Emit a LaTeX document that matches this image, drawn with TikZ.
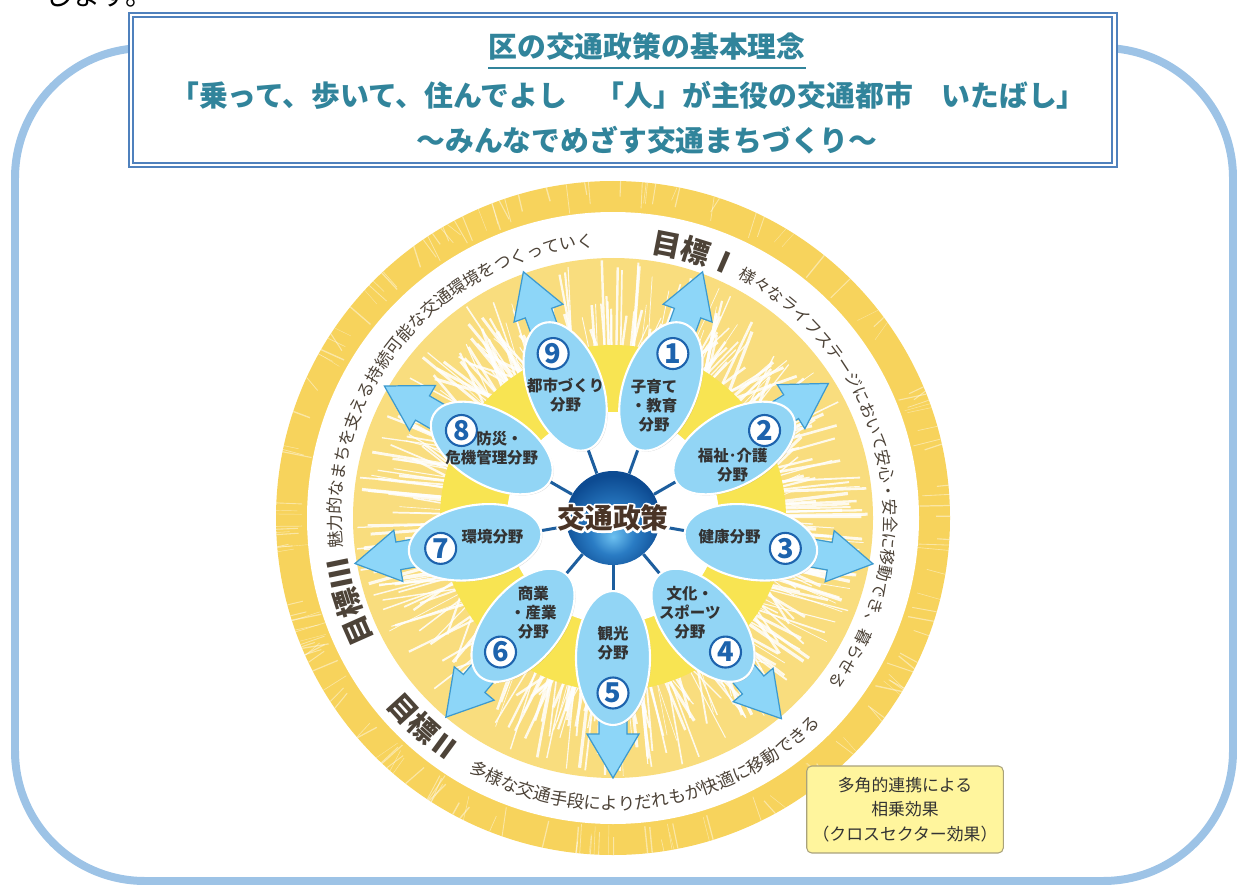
\documentclass[tikz,border=0pt]{standalone}
\usepackage{fontspec}
\setmainfont{Noto Sans CJK JP}
\usetikzlibrary{shapes.geometric,shadows,decorations.text}

\definecolor{framesky}{HTML}{9DC3E6}
\definecolor{titleblue}{HTML}{4F81BD}
\definecolor{titleteal}{HTML}{31849B}
\definecolor{ringgold}{HTML}{F7D35C}
\definecolor{raybase}{HTML}{F9DD7E}
\definecolor{sunyellow}{HTML}{F8E452}
\definecolor{petalsky}{HTML}{92D5F5}
\definecolor{arrowsky}{HTML}{8DD6F8}
\definecolor{arrowedge}{HTML}{3D9ACF}
\definecolor{spokeblue}{HTML}{1D5E9E}
\definecolor{numblue}{HTML}{1D63AD}
\definecolor{ringink}{HTML}{4D4338}
\definecolor{policyink}{HTML}{4A3426}
\definecolor{notefill}{HTML}{FFF59D}
\definecolor{noteedge}{HTML}{A9A27B}
\definecolor{ballhi}{HTML}{6CC0F0}
\definecolor{ballmid}{HTML}{2A7CC4}
\definecolor{balldark}{HTML}{0D4B92}

\pgfdeclareradialshading{policyball}{\pgfpoint{0bp}{-10bp}}{color(0bp)=(ballhi); color(12bp)=(ballmid); color(27bp)=(balldark); color(50bp)=(balldark)}

\newcommand\goalfont{\fontsize{16.5}{18}\selectfont\bfseries}
\newcommand\ringfont{\fontsize{9.6}{11}\selectfont}
\newcommand\ringfontright{\fontsize{9.3}{11}\selectfont}
\newcommand\ringfontlow{\fontsize{9.9}{11}\selectfont}
% white outline round a text, then the text itself
\newcommand\glowtext[1]{\rlap{\special{pdf:literal direct 1 1 1 RG 1 j 2.4 w 1 Tr}#1\special{pdf:literal direct 0 Tr}}#1}

\begin{document}
\begin{tikzpicture}[x=0.02cm, y=0.02cm,
    titletext/.style={text=titleteal, font=\fontsize{16.4}{18}\selectfont\bfseries, inner sep=0},
    petal/.style={ellipse, fill=petalsky, draw=white, line width=1.2pt, minimum width=1.48cm,
        minimum height=2.68cm, inner sep=0, drop shadow={opacity=0.3, shadow xshift=0.6pt, shadow yshift=-0.6pt}},
    bigarrow/.style={fill=arrowsky, draw=arrowedge, line width=0.7pt, line join=miter},
    spoke/.style={draw=spokeblue, line width=1.7pt},
    hub/.style={circle, minimum size=1.88cm, inner sep=0, shading=policyball},
    numdisc/.style={circle, draw=numblue, line width=1.2pt, fill=white, minimum size=0.62cm,
        inner sep=0, text=numblue, font=\fontsize{15.5}{15.5}\selectfont\bfseries},
    sector/.style={align=center, text=black!80, font=\fontsize{8.8}{10.8}\selectfont\bfseries, inner sep=0},
    policytext/.style={font=\fontsize{15.8}{16}\selectfont\bfseries, text=policyink, inner sep=0},
    notebox/.style={draw=noteedge, fill=notefill, rounded corners=0.1cm, line width=0.6pt,
        minimum width=3.6cm, minimum height=1.74cm, align=center, text=black!80,
        font=\fontsize{9.6}{13.9}\selectfont}]
    \useasboundingbox (0,0) rectangle (1237,-885);

    % frame and title
    \draw[framesky, line width=0.16cm, rounded corners=2.6cm] (15,-48) rectangle (1233,-881);
    \node[anchor=base west, inner sep=0, font=\fontsize{15.9}{18}\selectfont] (prevline) at (44,-6) {します。};
    \filldraw[fill=white, draw=titleblue, line width=1.1pt, double, double distance=1.6pt] (131,-15) rectangle (1114.5,-165);
    \node[titletext] (aim) at (647,-46) {区の交通政策の基本理念};
    \draw[titleteal, line width=1.2pt] ([yshift=-0.16cm]aim.south west) -- ([yshift=-0.16cm]aim.south east);
    \node[titletext] (slogan) at (628,-95) {「乗って、歩いて、住んでよし　「人」が主役の交通都市　いたばし」};
    \node[titletext] (motto) at (647,-140) {～みんなでめざす交通まちづくり～};

    \begin{scope}[shift={(613,-518)}]
        % sun rings
        \fill[ringgold] (0,0) circle (337);
        \pgfmathsetseed{11}
        \foreach \i in {1,...,160}{
            \pgfmathsetmacro{\a}{360*rnd}
            \pgfmathsetmacro{\w}{0.2+0.6*rnd}
            \draw[white, opacity=0.45, line width=\w pt] (\a:{306+20*rnd}) -- (\a:337);
        }
        \fill[white] (0,0) circle (306);
        \fill[raybase] (0,0) circle (260);
        \foreach \i in {1,...,420}{
            \pgfmathsetmacro{\a}{360*rnd}
            \pgfmathsetmacro{\w}{0.3+1.6*rnd}
            \draw[white, opacity=0.85, line width=\w pt] (\a:170) -- (\a:{185+75*rnd});
        }
        \fill[sunyellow] (0,0) circle (173);
        \fill[white] (0,0) circle (106);

        % goals on the white band
        \path[decorate, decoration={text along path, text color=ringink, text={|\goalfont|目標Ⅲ}}]
            (207:268) arc[start angle=207, end angle=170, radius=268];
        \path[decorate, decoration={text along path, text color=ringink,
            text={|\ringfont|魅力的なまちを支える持続可能な交通環境をつくっていく}}]
            (186.3:272) arc[start angle=186.3, end angle=80, radius=272];
        \path[decorate, decoration={text along path, text color=ringink, text={|\goalfont|目標Ⅰ}}]
            (82:268) arc[start angle=82, end angle=55, radius=268];
        \path[decorate, decoration={text along path, text color=ringink,
            text={|\ringfontright|様々なライフステージにおいて安心・安全に移動でき、暮らせる}}]
            (62.6:271) arc[start angle=62.6, end angle=-50, radius=271];
        \path[decorate, decoration={text along path, text color=ringink, text={|\goalfont|目標Ⅱ}}]
            (-140.5:294) arc[start angle=-140.5, end angle=-110, radius=294];
        \path[decorate, decoration={text along path, text color=ringink,
            text={|\ringfontlow|多様な交通手段によりだれもが快適に移動できる}}]
            (-119.7:292) arc[start angle=-119.7, end angle=-25, radius=292];

        % arrows out of the petals
        \foreach \a/\t in {70/262, 32/254, -10/264, -50/262, -90/260, -130/260, 190/262, 150/264, 110/262}
            \draw[bigarrow, rotate=\a] (182,-14) -- (\t-44,-14) -- (\t-44,-26) -- (\t,0)
                -- (\t-44,26) -- (\t-44,14) -- (182,14) -- cycle;

        % petals
        \foreach \a/\n in {70/1, 30/2, -10/3, -50/4, -90/5, -130/6, 190/7, 150/8, 110/9}
            \node[petal, rotate=\a-90] (p\n) at (\a:140) {};

        \node[hub] (ball) at (0,0) {};
        \foreach \n in {1,...,9}
            \draw[spoke] (ball) -- (p\n);
        \node[policytext] (policy) at (0,0) {\glowtext{交通政策}};

        \foreach \a/\n in {70/1, 30/2, -10/3, -50/4, -90/5, -130/6, 190/7, 150/8, 110/9}
            \node[numdisc] (n\n) at (\a:175) {\n};

        \foreach \n/\a/\r/\txt in {1/70/120/{子育て\\・教育\\分野}, 2/24/131/{福祉･介護\\分野},
                3/-9/118/健康分野, 4/-51/122/{文化・\\スポーツ\\分野}, 5/-90/125/{観光\\分野},
                6/-130/124/{商業\\・産業\\分野}, 7/189/122/環境分野,
                8/150/140/{\hspace*{1em}防災・\\危機管理分野}, 9/111/132/{都市づくり\\分野}}
            \node[sector] (s\n) at (\a:\r) {\txt};
    \end{scope}

    \node[notebox] (effect) at (905,-809.5) {多角的連携による\\相乗効果\\（クロスセクター効果）};
\end{tikzpicture}
\end{document}
